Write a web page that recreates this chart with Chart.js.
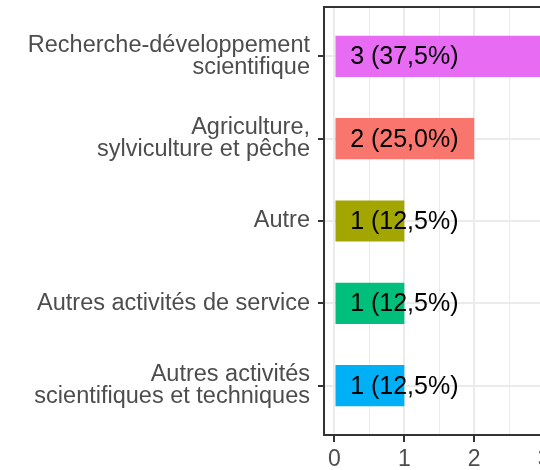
<!DOCTYPE html>
<html>
<head>
<meta charset="utf-8">
<script src="https://cdn.jsdelivr.net/npm/chart.js@4/dist/chart.umd.min.js"></script>
<style>
  html, body { margin: 0; padding: 0; background: #fff; overflow: hidden; }
  canvas { display: block; }
</style>
</head>
<body>
<canvas id="chart" width="560" height="470"></canvas>
<script>
// categories, top to bottom
const categories = [
    ['Recherche-développement', 'scientifique'],
    ['Agriculture,', 'sylviculture et pêche'],
    ['Autre'],
    ['Autres activités de service'],
    ['Autres activités', 'scientifiques et techniques']
];
const counts = [3, 2, 1, 1, 1];
const barColors = ['#E76BF3', '#F8766D', '#A3A500', '#00BF7D', '#00B0F6'];
const xTicks = [0, 0.5, 1, 1.5, 2, 2.5, 3];
const labelAt = 1;

const total = counts.reduce((a, b) => a + b, 0);
const pctText = v => `${v} (${(v / total * 100).toFixed(1).replace('.', ',')}%)`;
const FONT = '"Liberation Sans", Arial, sans-serif';

const barLabels = {
    id: 'barLabels',
    afterDatasetsDraw(chart) {
        const { ctx, scales: { x } } = chart;
        const meta = chart.getDatasetMeta(0);
        ctx.save();
        ctx.font = `25px ${FONT}`;
        ctx.fillStyle = '#000';
        ctx.textAlign = 'center';
        ctx.textBaseline = 'middle';
        meta.data.forEach((bar, i) => {
            ctx.fillText(pctText(counts[i]), x.getPixelForValue(labelAt), bar.y + 1);
        });
        ctx.restore();
    },
    afterDraw(chart) {
        const { ctx, chartArea: a } = chart;
        ctx.save();
        ctx.strokeStyle = '#333333';
        ctx.lineWidth = 2;
        ctx.strokeRect(a.left, a.top, a.right - a.left, a.bottom - a.top);
        ctx.restore();
    }
};

new Chart(document.getElementById('chart'), {
    type: 'bar',
    data: {
        datasets: [{
            data: counts.map((v, i) => ({ x: v, y: i + 1 })),
            backgroundColor: barColors,
            borderWidth: 0,
            barPercentage: 0.5,
            categoryPercentage: 1
        }]
    },
    options: {
        indexAxis: 'y',
        responsive: false,
        animation: false,
        layout: { padding: { top: 7, right: 5.5, left: 0, bottom: 0 } },
        plugins: { legend: { display: false }, tooltip: { enabled: false } },
        scales: {
            x: {
                type: 'linear',
                min: -0.15,
                max: 3.15,
                afterBuildTicks: s => { s.ticks = xTicks.map(v => ({ value: v })); },
                afterFit: s => { s.height = 35; s.paddingLeft = 0; s.paddingRight = 0; },
                border: { display: false },
                grid: {
                    color: '#ebebeb',
                    lineWidth: c => Number.isInteger(c.tick.value) ? 2 : 1,
                    tickColor: c => Number.isInteger(c.tick.value) ? '#333333' : 'rgba(0,0,0,0)',
                    tickWidth: 2,
                    tickLength: 7
                },
                ticks: {
                    autoSkip: false,
                    maxRotation: 0,
                    padding: 4,
                    color: '#4d4d4d',
                    font: { family: FONT, size: 23 },
                    callback: v => Number.isInteger(v) ? String(v) : ''
                }
            },
            y: {
                type: 'linear',
                reverse: true,
                offset: false,
                min: 0.4,
                max: 5.6,
                afterBuildTicks: s => { s.ticks = categories.map((c, i) => ({ value: i + 1 })); },
                afterFit: s => { s.width = 324; s.paddingTop = 0; s.paddingBottom = 0; },
                border: { display: false },
                grid: {
                    offset: false,
                    color: '#ebebeb',
                    lineWidth: 2,
                    tickColor: '#333333',
                    tickWidth: 2,
                    tickLength: 6
                },
                ticks: {
                    autoSkip: false,
                    padding: 8,
                    color: '#4d4d4d',
                    font: { family: FONT, size: 23.5, lineHeight: 0.92 },
                    callback: v => categories[v - 1]
                }
            }
        }
    },
    plugins: [barLabels]
});
</script>
</body>
</html>
